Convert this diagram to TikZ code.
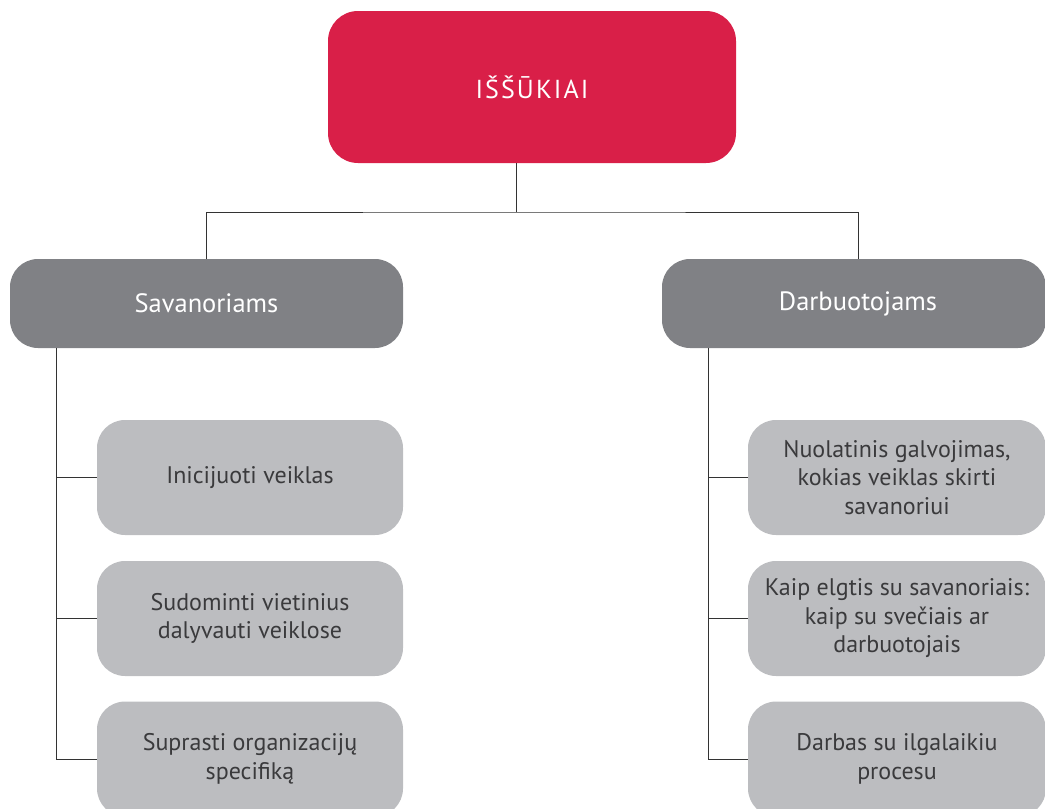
\documentclass[tikz,border=0pt]{standalone}
\usepackage{fontspec}
\setmainfont{PT Sans}
\definecolor{topred}{HTML}{D91F48}
\definecolor{midgray}{HTML}{808185}
\definecolor{lightgray}{HTML}{BCBDC0}
\definecolor{txtgray}{HTML}{3A3A3C}
\definecolor{linegray}{HTML}{333333}
\begin{document}
\begin{tikzpicture}[x=1pt,y=-1pt,
  topbox/.style={fill=topred, rounded corners=30pt, minimum width=408pt, minimum height=152pt, inner sep=0pt, text=white, font=\fontsize{26}{30}\selectfont\addfontfeature{LetterSpace=8}},
  midbox/.style={fill=midgray, rounded corners=28pt, minimum height=89pt, inner sep=0pt, text=white, font=\fontsize{26.5}{30}\selectfont},
  childbox/.style={fill=lightgray, rounded corners=28pt, minimum height=115pt, inner sep=0pt, text=txtgray, align=center, font=\fontsize{24}{28.5}\selectfont},
  conn/.style={draw=linegray, line width=1pt}]
\useasboundingbox (0,0) rectangle (1045,809);
\clip (0,0) rectangle (1045,809);
\node[topbox] (top) at (532,87) {IŠŠŪKIAI};
\node[midbox, minimum width=393pt] (sav) at (206.5,303.5) {Savanoriams};
\node[midbox, minimum width=384pt] (darb) at (854,303.5) {\hspace{8pt}Darbuotojams};
\node[childbox, minimum width=306pt] (l1) at (250,477.5) {Inicijuoti veiklas};
\node[childbox, minimum width=306pt] (l2) at (250,618.5) {Sudominti vietinius\\dalyvauti veiklose};
\node[childbox, minimum width=306pt] (l3) at (250,759) {Suprasti organizacijų\\specifiką};
\node[childbox, minimum width=298pt] (r1) at (897,477.5) {Nuolatinis galvojimas,\\kokias veiklas skirti\\savanoriui};
\node[childbox, minimum width=298pt] (r2) at (897,618.5) {Kaip elgtis su savanoriais:\\kaip su svečiais ar\\darbuotojais};
\node[childbox, minimum width=298pt] (r3) at (897,759) {Darbas su ilgalaikiu\\procesu};
\coordinate (hub) at (516,212);
\draw[conn] (516,163) -- (hub);
\draw[conn] (206,259) |- (hub) -| (858,259);
\draw[conn] (56,348) |- (l3.west);
\draw[conn] (56,477.5) -- (l1.west);
\draw[conn] (56,618.5) -- (l2.west);
\draw[conn] (708,348) |- (r3.west);
\draw[conn] (708,477.5) -- (r1.west);
\draw[conn] (708,618.5) -- (r2.west);
\end{tikzpicture}
\end{document}
